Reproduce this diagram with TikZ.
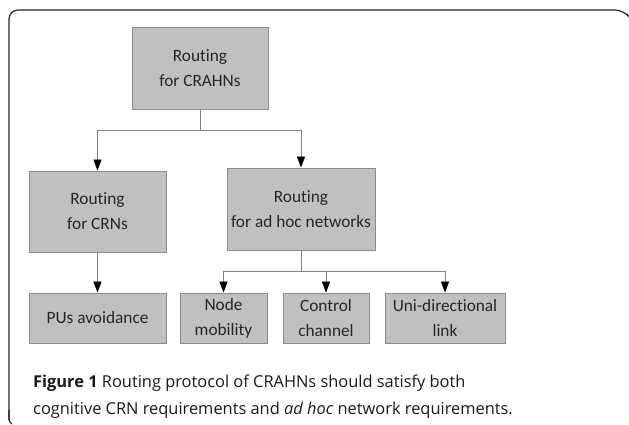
\documentclass[tikz,border=0pt]{standalone}
\usepackage{fontspec}
\setmainfont{Carlito}[Ligatures=NoCommon]
\newfontfamily\capfont{Open Sans}
\usetikzlibrary{arrows.meta}
\definecolor{boxfill}{HTML}{C0C0C0}
\definecolor{boxline}{HTML}{8C8C8C}
\definecolor{conn}{HTML}{808080}
\tikzset{
  box/.style={draw=boxline, fill=boxfill, line width=0.8pt, align=center, inner sep=0pt,
    text=black!85, font=\fontsize{17.3}{25}\selectfont},
  conn/.style={draw=conn, line width=0.7pt},
  arr/.style={conn, -{Triangle[length=11pt,width=8pt,fill=black,color=black]}},
  captext/.style={anchor=base west, inner sep=0pt, text=black!90, font=\capfont\fontsize{16.4}{20}\selectfont},
}
\begin{document}
\begin{tikzpicture}[x=1pt,y=-1pt]
\useasboundingbox (0,0) rectangle (629,425);
% outer frame
\draw[line width=1.2pt, black!85, rounded corners=9pt] (627,14) -- (624,10) -- (9,10) -- (9,420);
\draw[line width=1.2pt, black!85, rounded corners=3pt] (9,410) -- (9,422) -- (12,424);
% boxes
\node[box, minimum width=136pt, minimum height=82pt] (root) at (200,68) {Routing\\for CRAHNs};
\node[box, minimum width=137pt, minimum height=81pt] (crn) at (97.5,211.5) {Routing\\for CRNs};
\node[box, minimum width=148pt, minimum height=82pt] (adhoc) at (301,209) {Routing\\for ad hoc networks};
\node[box, minimum width=137pt, minimum height=50pt] (pu) at (97.5,318) {PUs avoidance};
\node[box, minimum width=87pt, minimum height=50pt] (nm) at (223.5,318) {Node\\mobility};
\node[box, minimum width=86pt, minimum height=50pt] (cc) at (326,318) {Control\\channel};
\node[box, minimum width=120pt, minimum height=50pt] (ud) at (445,318) {Uni-directional\\link};
% connectors
\coordinate (j1) at (200,130);
\draw[conn] (root.south) -- (j1);
\draw[arr] (j1) -| (crn.north);
\draw[arr] (j1) -| (adhoc.north);
\draw[arr] (crn.south) -- (pu.north);
\coordinate (j2) at (301,271);
\draw[conn] (adhoc.south) -- (j2);
\draw[arr] (j2) -| (nm.north);
\draw[arr] (j2) -| (ud.north);
\draw[arr] (cc.north |- j2) -- (cc.north);
% caption
\node[captext] (cap1) at (33,387) {\textbf{Figure 1} Routing protocol of CRAHNs should satisfy both};
\node[captext] (cap2) at (33,414) {cognitive CRN requirements and \textit{ad hoc} network requirements.};
\end{tikzpicture}
\end{document}
